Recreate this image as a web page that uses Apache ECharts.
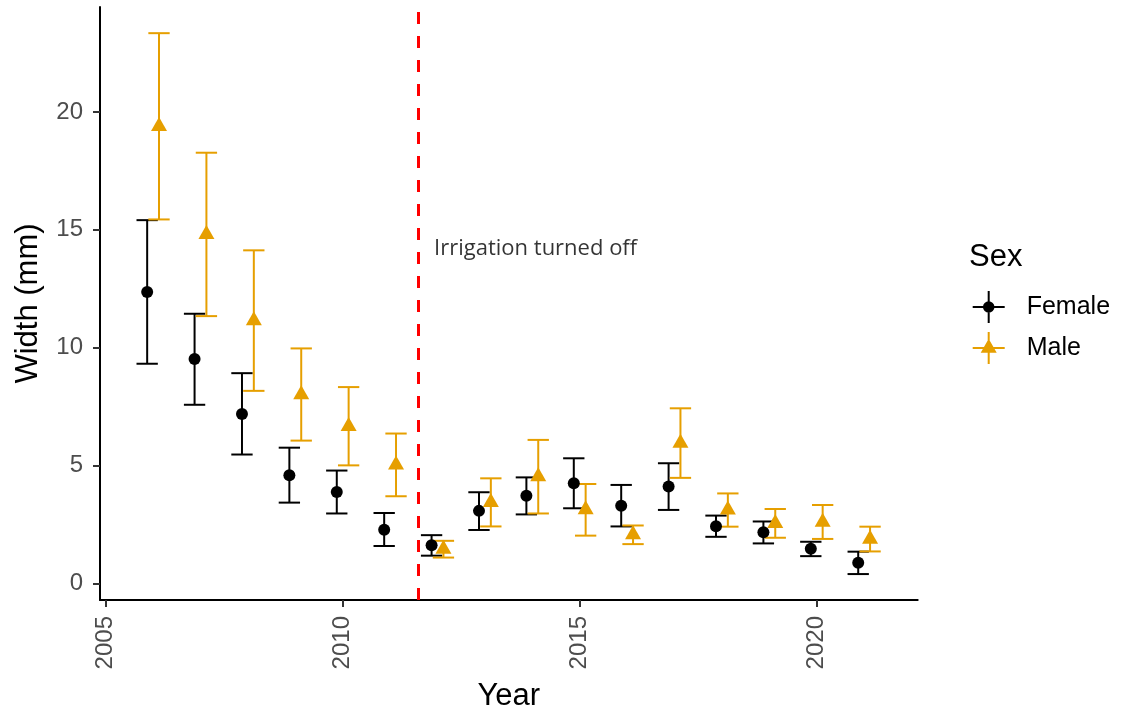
<!DOCTYPE html>
<html>
<head>
<meta charset="utf-8">
<script src="https://cdn.jsdelivr.net/npm/echarts@6/dist/echarts.min.js"></script>
<style>
  html, body { margin: 0; padding: 0; background: #ffffff; }
  #chart { width: 1122px; height: 715px; }
</style>
</head>
<body>
<div id="chart"></div>
<script>
// Survey years
const years = [2006, 2007, 2008, 2009, 2010, 2011, 2012, 2013, 2014, 2015, 2016, 2017, 2018, 2019, 2020, 2021];

// Female width (mm): mean and error bar limits
const femaleMean  = [12.36, 9.52, 7.19, 4.59, 3.88, 2.28, 1.62, 3.08, 3.72, 4.25, 3.30, 4.11, 2.43, 2.17, 1.47, 0.88];
const femaleLower = [ 9.32, 7.58, 5.47, 3.43, 2.97, 1.59, 1.18, 2.27, 2.93, 3.19, 2.42, 3.12, 1.98, 1.70, 1.16, 0.40];
const femaleUpper = [15.41, 11.44, 8.92, 5.76, 4.79, 2.99, 2.05, 3.87, 4.50, 5.31, 4.18, 5.10, 2.88, 2.63, 1.77, 1.35];

// Male width (mm): mean and error bar limits
const maleMean  = [19.39, 14.81, 11.15, 8.01, 6.67, 5.03, 1.46, 3.44, 4.53, 3.13, 2.07, 5.96, 3.12, 2.55, 2.61, 1.88];
const maleLower = [15.44, 11.34, 8.17, 6.06, 5.01, 3.70, 1.10, 2.42, 2.97, 2.03, 1.67, 4.48, 2.41, 1.94, 1.89, 1.36];
const maleUpper = [23.34, 18.27, 14.13, 9.97, 8.33, 6.36, 1.81, 4.46, 6.09, 4.22, 2.46, 7.43, 3.82, 3.16, 3.33, 2.41];

// Axis ticks
const xTicks = [2005, 2010, 2015, 2020];
const yTicks = [0, 5, 10, 15, 20];

// Irrigation switch-off and its note
const irrigationOffYear = 2011.6;
const noteText = 'Irrigation turned off';
const notePosition = [2014.07, 14.18];

const sexNames = ['Female', 'Male'];
const sexColors = ['#000000', '#E69F00'];

// Dodge width between sexes within a year, and error bar cap width (in years)
const dodge = 0.125;
const capWidth = 0.45;

const FONT = 'Liberation Sans, Arial, Helvetica, sans-serif';

// Legend keys: crosshair with the point glyph in the middle
const femaleIcon = 'path://M0 15H32V17H0Z M15 0H17V32H15Z M10.25 16A5.75 5.75 0 1 1 21.75 16A5.75 5.75 0 1 1 10.25 16Z';
const maleIcon = 'path://M0 15H32V17H0Z M15 0H17V32H15Z M16 6.67L24 20.67L8 20.67Z';

function errorBarRenderer(color) {
  return function (params, api) {
    const x = api.value(0);
    const lo = api.coord([x, api.value(1)]);
    const hi = api.coord([x, api.value(2)]);
    const half = api.size([capWidth, 0])[0] / 2;
    const style = { stroke: color, lineWidth: 2, fill: null };
    return {
      type: 'group',
      children: [
        { type: 'line', shape: { x1: lo[0], y1: lo[1], x2: hi[0], y2: hi[1] }, style: style },
        { type: 'line', shape: { x1: hi[0] - half, y1: hi[1], x2: hi[0] + half, y2: hi[1] }, style: style },
        { type: 'line', shape: { x1: lo[0] - half, y1: lo[1], x2: lo[0] + half, y2: lo[1] }, style: style }
      ]
    };
  };
}

const femaleX = years.map(y => y - dodge);
const maleX = years.map(y => y + dodge);

const option = {
  animation: false,
  backgroundColor: '#ffffff',
  title: {
    text: 'Sex',
    left: 964,
    top: 237,
    textStyle: { fontSize: 31, fontWeight: 'normal', color: '#000', fontFamily: FONT }
  },
  legend: {
    orient: 'vertical',
    left: 972.7,
    top: 291,
    padding: 0,
    itemWidth: 32,
    itemHeight: 32,
    itemGap: 9,
    selectedMode: false,
    textStyle: { fontSize: 25, color: '#000', fontFamily: FONT, padding: [0, 0, 0, 17] },
    data: [
      { name: sexNames[0], icon: femaleIcon },
      { name: sexNames[1], icon: maleIcon }
    ]
  },
  grid: { left: 100, right: 204.3, top: 7, bottom: 115, containLabel: false, outerBoundsMode: 'none' },
  xAxis: {
    type: 'value',
    min: 2004.88,
    max: 2022.13,
    name: 'Year',
    nameLocation: 'middle',
    nameGap: 81,
    nameTextStyle: { fontSize: 31, color: '#000', fontFamily: FONT },
    axisLine: { onZero: false, lineStyle: { color: '#000', width: 2 } },
    axisTick: { customValues: xTicks, length: 7, lineStyle: { color: '#333', width: 2 } },
    axisLabel: {
      customValues: xTicks, rotate: 90, margin: 16, fontSize: 24, color: '#4D4D4D', fontFamily: FONT,
      formatter: v => String(v)
    },
    splitLine: { show: false }
  },
  yAxis: {
    type: 'value',
    min: -0.7,
    max: 24.45,
    name: 'Width (mm)',
    nameLocation: 'middle',
    nameGap: 56,
    nameTextStyle: { fontSize: 31, color: '#000', fontFamily: FONT },
    axisLine: { onZero: false, lineStyle: { color: '#000', width: 2 } },
    axisTick: { customValues: yTicks, length: 7, lineStyle: { color: '#333', width: 2 } },
    axisLabel: { customValues: yTicks, margin: 17, fontSize: 24, color: '#4D4D4D', fontFamily: FONT,
      formatter: v => String(v) },
    splitLine: { show: false }
  },
  series: [
    {
      name: sexNames[0],
      type: 'custom',
      z: 2,
      silent: true,
      itemStyle: { color: sexColors[0] },
      encode: { x: 0, y: [1, 2] },
      data: years.map((y, i) => [femaleX[i], femaleLower[i], femaleUpper[i]]),
      renderItem: errorBarRenderer(sexColors[0])
    },
    {
      name: sexNames[1],
      type: 'custom',
      z: 2,
      silent: true,
      itemStyle: { color: sexColors[1] },
      encode: { x: 0, y: [1, 2] },
      data: years.map((y, i) => [maleX[i], maleLower[i], maleUpper[i]]),
      renderItem: errorBarRenderer(sexColors[1])
    },
    {
      name: sexNames[0],
      type: 'scatter',
      z: 3,
      symbol: 'circle',
      symbolSize: 12,
      itemStyle: { color: sexColors[0], opacity: 1 },
      data: years.map((y, i) => [femaleX[i], femaleMean[i]])
    },
    {
      name: sexNames[1],
      type: 'scatter',
      z: 3,
      symbol: 'triangle',
      symbolSize: [16, 14],
      symbolOffset: [0, -2.33],
      itemStyle: { color: sexColors[1], opacity: 1 },
      data: years.map((y, i) => [maleX[i], maleMean[i]])
    },
    {
      name: 'note',
      type: 'scatter',
      z: 5,
      silent: true,
      symbolSize: 0,
      data: [[notePosition[0], notePosition[1], noteText]],
      label: {
        show: true,
        position: 'inside',
        formatter: p => p.value[2],
        fontSize: 22,
        color: '#000',
        fontFamily: 'Open Sans, Noto Sans, sans-serif'
      },
      markLine: {
        silent: true,
        symbol: 'none',
        label: { show: false },
        lineStyle: { color: '#FF0000', type: [12, 12], width: 3 },
        data: [{ xAxis: irrigationOffYear }]
      }
    }
  ]
};

const chart = echarts.init(document.getElementById('chart'), null, { renderer: 'canvas' });
chart.setOption(option);
</script>
</body>
</html>
